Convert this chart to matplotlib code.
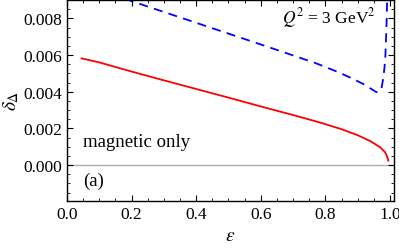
import matplotlib
matplotlib.use("Agg")
import matplotlib.pyplot as plt
from matplotlib.ticker import MultipleLocator, FormatStrFormatter

eps_red = [0.045, 0.1, 0.2, 0.3, 0.4, 0.5, 0.6, 0.7, 0.78, 0.85, 0.9, 0.94, 0.97, 0.985, 0.991, 0.995]
delta_red = [0.00582, 0.0056, 0.0051, 0.00462, 0.00415, 0.00368, 0.0032, 0.00273, 0.00234, 0.00196, 0.00163, 0.0013, 0.00097, 0.0007, 0.00048, 0.00024]

eps_blue = [0.1, 0.185, 0.3, 0.4, 0.5, 0.6, 0.7, 0.77, 0.83, 0.88, 0.92, 0.945, 0.958, 0.967, 0.974, 0.979, 0.983, 0.986, 0.988, 0.990, 0.992]
delta_blue = [0.0094, 0.00903, 0.00835, 0.00776, 0.00717, 0.00658, 0.00598, 0.00556, 0.00514, 0.00475, 0.0044, 0.00412, 0.00398, 0.00399, 0.0042, 0.0047, 0.0053, 0.0060, 0.0069, 0.0080, 0.0095]

plt.rcParams['font.family'] = ['Liberation Serif', 'DejaVu Serif']
plt.rcParams['mathtext.fontset'] = 'stix'

fig = plt.figure(figsize=(3.99, 2.51), dpi=100)
ax = fig.add_axes([0.168, 0.195, 0.819, 0.803])

ax.axhline(0, color='#b0b0b0', lw=1.0, zorder=1)
ax.plot(eps_red, delta_red, color='red', lw=1.3)
ax.plot(eps_blue, delta_blue, color='blue', lw=1.3, ls=(0, (5, 3.5)))

ax.set_xlim(0, 1.012)
ax.set_ylim(-0.00196, 0.00903)
ax.xaxis.set_major_locator(MultipleLocator(0.2))
ax.xaxis.set_minor_locator(MultipleLocator(0.05))
ax.yaxis.set_major_locator(MultipleLocator(0.002))
ax.yaxis.set_minor_locator(MultipleLocator(0.0005))
ax.xaxis.set_major_formatter(FormatStrFormatter('%.1f'))
ax.yaxis.set_major_formatter(FormatStrFormatter('%.3f'))
ax.tick_params(which='both', direction='in', top=True, right=True, labelsize=12.5, colors='black')
ax.tick_params(which='major', length=4, width=0.8)
ax.tick_params(which='minor', length=2, width=0.6)
for lab in ax.get_xticklabels() + ax.get_yticklabels():
    lab.set_fontfamily(['Liberation Serif', 'DejaVu Serif'])
for s in ax.spines.values():
    s.set_linewidth(1.0)

ax.set_xlabel(r'$\varepsilon$', fontsize=14, labelpad=4)
ax.set_ylabel(r'$\delta_\Delta$', fontsize=14, labelpad=2)

ax.text(0.05, 0.0013, 'magnetic only', fontsize=13.5, va='center', ha='left')
ax.text(0.05, -0.00085, '(a)', fontsize=13.5, va='center', ha='left')
ax.text(0.665, 0.0081, r'$Q^2$ = 3 GeV$^2$', fontsize=12.5, va='center', ha='left')

fig.savefig('out.png', dpi=100)
